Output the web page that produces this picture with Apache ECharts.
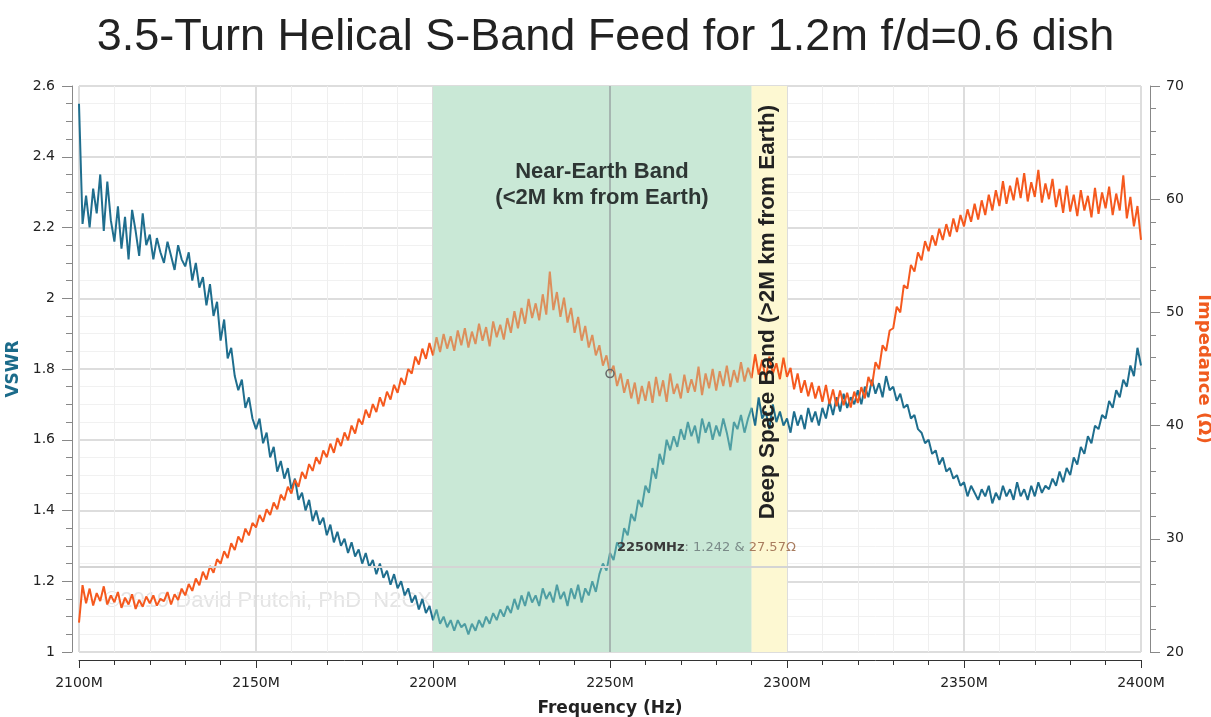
<!DOCTYPE html>
<html>
<head>
<meta charset="utf-8">
<script src="https://cdn.jsdelivr.net/npm/echarts@6/dist/echarts.min.js"></script>
<style>
html,body{margin:0;padding:0;background:#fff;}
#chart{width:1211px;height:717px;}
</style>
</head>
<body>
<div id="chart"></div>
<script>
// ---- DATA ----
const titleText = '3.5-Turn Helical S-Band Feed for 1.2m f/d=0.6 dish';
const freqStartMHz = 2100;
const freqStepMHz = 1;
const xTickLabelsSuffix = 'M';

// VSWR, one reading per MHz, 2100..2400
const vswr = [
2.55,2.21,2.29,2.20,2.31,2.24,2.35,2.19,2.33,2.22,
2.16,2.26,2.14,2.23,2.11,2.25,2.19,2.12,2.24,2.15,
2.18,2.11,2.17,2.13,2.10,2.16,2.12,2.08,2.15,2.11,
2.09,2.13,2.05,2.10,2.03,2.06,1.98,2.04,1.95,1.99,
1.88,1.94,1.83,1.86,1.78,1.74,1.77,1.69,1.72,1.66,
1.63,1.66,1.59,1.62,1.55,1.58,1.51,1.54,1.49,1.52,
1.46,1.49,1.43,1.45,1.40,1.43,1.37,1.40,1.36,1.38,
1.33,1.36,1.31,1.34,1.30,1.32,1.28,1.31,1.27,1.29,
1.25,1.28,1.24,1.26,1.22,1.25,1.21,1.23,1.19,1.22,
1.18,1.20,1.16,1.18,1.14,1.16,1.12,1.15,1.11,1.13,
1.09,1.12,1.08,1.10,1.07,1.09,1.06,1.09,1.07,1.08,
1.05,1.08,1.06,1.09,1.07,1.10,1.08,1.11,1.09,1.12,
1.10,1.13,1.11,1.15,1.12,1.16,1.13,1.17,1.14,1.16,
1.13,1.18,1.15,1.17,1.14,1.19,1.15,1.17,1.13,1.18,
1.15,1.19,1.14,1.18,1.16,1.20,1.17,1.22,1.25,1.23,
1.28,1.26,1.31,1.29,1.35,1.33,1.39,1.37,1.43,1.41,
1.47,1.45,1.52,1.49,1.56,1.53,1.60,1.57,1.61,1.58,
1.63,1.60,1.65,1.61,1.64,1.59,1.66,1.62,1.65,1.60,
1.64,1.61,1.66,1.62,1.57,1.65,1.63,1.67,1.62,1.66,
1.69,1.64,1.72,1.66,1.68,1.63,1.70,1.65,1.68,1.64,
1.66,1.62,1.68,1.64,1.67,1.63,1.69,1.65,1.68,1.64,
1.69,1.66,1.71,1.67,1.72,1.68,1.73,1.69,1.72,1.70,
1.74,1.70,1.75,1.72,1.77,1.73,1.76,1.72,1.78,1.74,
1.75,1.71,1.73,1.69,1.70,1.66,1.67,1.63,1.62,1.59,
1.60,1.56,1.57,1.53,1.55,1.51,1.52,1.49,1.50,1.47,
1.48,1.44,1.47,1.45,1.43,1.46,1.44,1.47,1.42,1.45,
1.43,1.47,1.44,1.46,1.43,1.48,1.44,1.46,1.43,1.47,
1.44,1.48,1.45,1.47,1.46,1.49,1.47,1.51,1.48,1.52,
1.50,1.55,1.53,1.58,1.56,1.61,1.59,1.64,1.63,1.67,
1.66,1.71,1.69,1.74,1.72,1.77,1.75,1.81,1.78,1.86,
1.81
];

// Impedance (ohm), one reading per MHz, 2100..2400
const impedance = [
22.6,25.9,24.3,25.6,24.1,25.2,24.5,25.8,24.2,25.0,
24.4,25.3,23.9,24.8,24.2,25.1,23.8,24.6,24.0,24.9,
24.3,25.0,24.1,24.7,24.5,25.3,24.2,25.1,24.6,25.6,
25.0,26.0,25.4,26.5,25.9,27.1,26.4,27.6,27.0,28.2,
27.8,28.9,28.3,29.6,29.0,30.2,29.7,30.9,30.3,31.4,
31.0,32.1,31.5,32.6,32.1,33.2,32.6,33.9,33.4,34.6,
34.0,35.2,34.6,35.9,35.3,36.6,36.0,37.2,36.6,37.8,
37.2,38.4,37.6,38.9,38.2,39.4,38.7,40.0,39.3,40.6,
40.1,41.4,40.7,41.9,41.2,42.5,41.7,43.0,42.3,43.6,
42.9,44.2,43.6,45.0,44.6,46.1,45.4,46.8,45.9,47.3,
46.2,47.8,46.5,48.1,46.8,47.9,46.6,48.4,47.1,48.6,
46.9,48.3,47.2,49.0,47.5,48.7,47.0,49.2,47.8,48.9,
47.6,49.5,48.2,50.1,48.6,50.4,49.0,51.2,49.5,50.8,
49.3,51.6,49.8,53.6,50.2,51.8,49.6,51.3,49.1,50.4,
48.2,49.6,47.5,48.8,46.9,48.0,46.2,47.1,45.3,46.2,
44.6,45.3,43.5,44.6,42.9,44.1,42.4,43.8,41.9,43.5,
42.2,43.9,42.0,44.3,42.6,44.0,42.1,44.6,42.8,43.7,
42.4,44.5,42.9,44.1,43.0,45.2,42.7,44.6,43.3,45.0,
43.1,44.8,43.5,45.3,43.4,44.9,43.8,45.6,43.9,45.1,
44.2,46.3,44.5,45.8,44.0,46.1,44.6,45.5,44.1,46.0,
44.3,45.1,43.2,44.6,42.9,44.0,42.6,43.8,42.4,43.5,
42.1,43.6,41.9,43.2,41.7,43.1,41.8,42.9,41.6,43.0,
42.0,43.4,42.4,44.3,43.5,45.6,45.0,47.1,46.6,48.4,
48.6,50.5,50.0,52.4,52.1,54.2,53.6,55.3,54.6,56.3,
55.4,56.8,55.9,57.4,56.4,57.8,56.7,58.3,57.1,58.6,
57.6,59.1,58.0,59.6,58.2,59.9,58.6,60.4,59.0,60.8,
59.4,61.6,59.6,61.2,59.9,61.9,60.1,62.3,59.8,61.5,
60.2,62.6,59.7,61.4,60.0,61.8,59.3,60.9,58.8,61.2,
58.9,60.4,58.5,60.8,59.0,60.3,58.4,61.0,58.7,60.6,
59.2,61.1,58.6,60.5,59.0,62.1,58.3,60.2,57.6,59.4,
56.4
];

// Frequency bands (MHz)
const nearEarthBand = [2200, 2290];
const deepSpaceBand = [2290, 2300];
const nearEarthLabel = 'Near-Earth Band\n(<2M km from Earth)';
const deepSpaceLabel = 'Deep Space Band (>2M km from Earth)';

// Cursor readout
const cursorFreq = 2250;
const cursorVswr = 1.242;
const cursorImp = 27.57;
const watermark = '\u00A92019 David Prutchi, PhD  N2CX';

// ---- BUILD ----
const freqs = vswr.map((_, i) => freqStartMHz + i * freqStepMHz);
const vswrData = vswr.map((v, i) => [freqs[i], v]);
const impData = impedance.map((v, i) => [freqs[i], v]);
const cursorIdx = freqs.indexOf(cursorFreq);

const BLUE = '#1f6e8e', BLUE_IN = '#4f9ea3';
const ORANGE = '#f5591e', ORANGE_IN = '#dc8f5c';
const labelFont = 'DejaVu Sans';

const chart = echarts.init(document.getElementById('chart'), null, {renderer: 'canvas'});
chart.setOption({
  animation: false,
  backgroundColor: '#ffffff',
  title: {
    text: titleText, left: 'center', top: 10,
    textStyle: {fontFamily: 'Liberation Sans', fontSize: 45, fontWeight: 'normal', color: '#222'}
  },
  grid: {left: 79, right: 70, top: 86, bottom: 65, containLabel: false, outerBoundsMode: 'none'},
  visualMap: [
    {type: 'piecewise', show: false, dimension: 0, seriesIndex: 1,
     pieces: [{gte: nearEarthBand[0], lt: nearEarthBand[1], color: BLUE_IN}], outOfRange: {color: BLUE}},
    {type: 'piecewise', show: false, dimension: 0, seriesIndex: 2,
     pieces: [{gte: nearEarthBand[0], lt: nearEarthBand[1], color: ORANGE_IN}], outOfRange: {color: ORANGE}}
  ],
  xAxis: {
    type: 'value', min: 2100, max: 2400, interval: 50, offset: 8,
    axisLine: {lineStyle: {color: '#333', width: 1}},
    axisTick: {length: 8, lineStyle: {color: '#333'}},
    minorTick: {show: true, splitNumber: 5, length: 5, lineStyle: {color: '#333'}},
    axisLabel: {formatter: v => v + xTickLabelsSuffix, fontFamily: labelFont, fontSize: 14, color: '#222', margin: 16},
    splitLine: {show: true, lineStyle: {color: '#dddddd', width: 2}},
    minorSplitLine: {show: true, lineStyle: {color: '#efefef', width: 1}},
    name: 'Frequency (Hz)', nameLocation: 'middle', nameGap: 40,
    nameTextStyle: {fontFamily: labelFont, fontSize: 17, fontWeight: 'bold', color: '#222'}
  },
  yAxis: [
    {
      type: 'value', min: 1, max: 2.6, interval: 0.2, offset: 7, position: 'left',
      axisLine: {show: true, lineStyle: {color: '#888'}},
      axisTick: {show: true, length: 10, lineStyle: {color: '#888'}},
      minorTick: {show: true, splitNumber: 4, length: 6, lineStyle: {color: '#888'}},
      axisLabel: {fontFamily: labelFont, fontSize: 14, color: '#222', margin: 17},
      splitLine: {show: true, lineStyle: {color: '#dddddd', width: 2}},
      minorSplitLine: {show: true, lineStyle: {color: '#f1f1f1', width: 1}},
      name: 'VSWR', nameLocation: 'middle', nameGap: 42, nameRotate: 90,
      nameTextStyle: {fontFamily: labelFont, fontSize: 17, fontWeight: 'bold', color: '#1b6b8a'}
    },
    {
      type: 'value', min: 20, max: 70, interval: 10, offset: 9, position: 'right',
      axisLine: {show: true, lineStyle: {color: '#888'}},
      axisTick: {show: true, length: 10, lineStyle: {color: '#888'}},
      minorTick: {show: true, splitNumber: 5, length: 6, lineStyle: {color: '#888'}},
      axisLabel: {fontFamily: labelFont, fontSize: 14, color: '#222', margin: 16},
      splitLine: {show: false},
      name: 'Impedance (\u03A9)', nameLocation: 'middle', nameGap: 38, nameRotate: -90,
      nameTextStyle: {fontFamily: labelFont, fontSize: 18, fontWeight: 'bold', color: '#f05a1e'}
    }
  ],
  series: [
    {
      name: 'bands', type: 'line', data: [], z: 1, silent: true,
      markArea: {
        silent: true,
        data: [
          [{xAxis: nearEarthBand[0], itemStyle: {color: '#c9e8d6'}}, {xAxis: nearEarthBand[1]}],
          [{xAxis: deepSpaceBand[0], itemStyle: {color: '#fdf8d2'}}, {xAxis: deepSpaceBand[1]}]
        ]
      }
    },
    {
      name: 'VSWR', type: 'line', yAxisIndex: 0, data: vswrData, showSymbol: false, z: 3,
      lineStyle: {width: 2}, color: BLUE,
      markLine: {
        silent: true, symbol: 'none', label: {show: false},
        data: [
          {yAxis: cursorVswr, lineStyle: {color: '#d4d4d4', width: 2, type: 'solid'}},
          {xAxis: cursorFreq, lineStyle: {color: '#9aa6a4', width: 1.5, type: 'solid'}}
        ]
      }
    },
    {
      name: 'Impedance', type: 'line', yAxisIndex: 1, data: impData, showSymbol: false, z: 4,
      lineStyle: {width: 2}, color: ORANGE,
      markPoint: {
        silent: true, symbol: 'circle', symbolSize: 8,
        itemStyle: {color: 'rgba(0,0,0,0)', borderColor: '#666', borderWidth: 1.5},
        label: {show: false},
        data: [{coord: [cursorFreq, impedance[cursorIdx]]}]
      }
    }
  ],
  graphic: [
    {type: 'text', z: 0, left: 104, top: 590, silent: true,
     style: {text: watermark, font: '22px "Liberation Sans"', fill: '#e4e4e4'}},
    {type: 'text', z: 10, x: 602, y: 185, silent: true,
     style: {text: nearEarthLabel, font: 'bold 22px "Liberation Sans"', fill: '#2e3634',
             textAlign: 'center', textVerticalAlign: 'middle', lineHeight: 26}},
    {type: 'text', z: 10, x: 768, y: 312, rotation: Math.PI / 2, silent: true,
     style: {text: deepSpaceLabel, font: 'bold 22.5px "Liberation Sans"', fill: '#222',
             textAlign: 'center', textVerticalAlign: 'middle'}},
    {type: 'text', z: 10, x: 617, y: 548, silent: true,
     style: {
       text: '{b|' + cursorFreq + 'MHz}{g|: ' + cursorVswr + ' & }{o|' + cursorImp + '\u03A9}',
       textVerticalAlign: 'middle',
       rich: {
         b: {fontFamily: labelFont, fontSize: 13, fontWeight: 'bold', fill: '#3a3a3a', color: '#3a3a3a'},
         g: {fontFamily: labelFont, fontSize: 13, fill: '#7a8a88', color: '#7a8a88'},
         o: {fontFamily: labelFont, fontSize: 13, fill: '#a87c5e', color: '#a87c5e'}
       }
     }}
  ]
});
</script>
</body>
</html>
